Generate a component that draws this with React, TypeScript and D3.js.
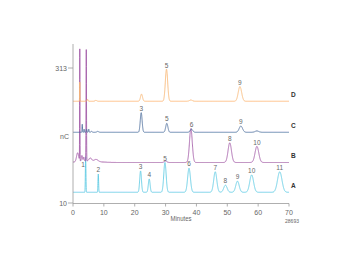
import React from "react";
import * as d3 from "d3";

// Retention time axis (minutes) and response axis (nC)
const xTicks = [0, 10, 20, 30, 40, 50, 60, 70];
const yTicks = [10, 313];
const traceNames = ["A", "B", "C", "D"];
// Baseline level of each stacked trace (nC)
const baselines = [34, 101, 168.7, 238.3];
const colors = ["#5fcbe3", "#a45ca8", "#52739f", "#f8b876"];

// Peak tables: [retention time (min), height above baseline (nC), sigma (min)]
const peaksA: [number, number, number][] = [
  [4.1, 80, 0.09], [8.2, 41, 0.1], [21.9, 48, 0.28], [24.7, 30, 0.28],
  [29.8, 67, 0.38], [37.6, 54, 0.45], [46.1, 46, 0.5], [49.4, 16, 0.55],
  [53.3, 25, 0.55], [57.9, 39, 0.62], [67.0, 46, 0.72],
];
const peaksB: [number, number, number][] = [
  [1.5, 20, 0.35], [2.2, 250, 0.05], [2.9, 13, 0.18], [3.5, 9, 0.14],
  [4.3, 250, 0.07], [5.6, 7, 0.4], [7.5, 4.5, 0.6], [5.0, 3.4, 3],
  [30.0, 3.4, 0.4], [38.2, 76, 0.45], [50.8, 44, 0.55], [59.6, 36, 0.6],
];
const peaksC: [number, number, number][] = [
  [3.0, 18, 0.07], [3.6, 7, 0.07], [4.4, 7, 0.1], [5.1, 7, 0.1],
  [6.0, 2, 0.2], [8.0, 2, 0.3], [22.1, 44, 0.3], [30.4, 20, 0.35],
  [38.4, 7, 0.4], [54.4, 14, 0.55], [59.6, 3, 0.6],
];
const peaksD: [number, number, number][] = [
  [2.2, 43, 0.05], [4.7, 4.5, 0.15], [7.4, 2, 0.3], [22.2, 16, 0.33],
  [30.3, 72, 0.38], [38.2, 2.7, 0.5], [54.1, 33, 0.55],
];
const peakTables = [peaksA, peaksB, peaksC, peaksD];

// Peak number annotations: [trace index, label, time (min), level (nC)]
const peakLabels: [number, string, number, number][] = [
  [0, "1", 3.3, 91], [0, "2", 8.2, 79], [0, "3", 21.9, 86], [0, "4", 24.7, 68],
  [0, "5", 29.8, 105], [0, "6", 37.6, 92], [0, "7", 46.1, 84], [0, "8", 49.4, 54],
  [0, "9", 53.3, 63], [0, "10", 57.9, 77], [0, "11", 67.0, 84],
  [1, "8", 50.8, 149], [1, "10", 59.6, 141],
  [2, "3", 22.1, 217], [2, "5", 30.4, 193], [2, "6", 38.4, 180], [2, "9", 54.4, 187],
  [3, "5", 30.3, 314], [3, "9", 54.1, 275],
];

const W = 360, H = 270;
const x = d3.scaleLinear().domain([0, 70]).range([73, 289]);
const y = d3.scaleLinear().domain([10, 313]).range([203, 68]);
const times = d3.range(0, 70.0001, 0.02);

function trace(i: number): [number, number][] {
  const peaks = peakTables[i];
  return times.map((t) => {
    let v = baselines[i];
    for (const [rt, h, s] of peaks) {
      const z = (t - rt) / s;
      if (Math.abs(z) < 8) v += h * Math.exp(-0.5 * z * z);
    }
    return [t, v];
  });
}

const line = d3
  .line<[number, number]>()
  .x((d) => x(d[0]))
  .y((d) => y(d[1]));

const font = "'Liberation Sans', Arial, sans-serif";

export default function App() {
  const axisColor = "#9a9a9a";
  const textColor = "#666";
  return (
    <svg
      width={W}
      height={H}
      style={{ position: "absolute", left: 0, top: 0, background: "#fff" }}
      fontFamily={font}
    >
      {/* traces */}
      {traceNames.map((n, i) => (
        <path
          key={n}
          d={line(trace(i)) || ""}
          fill="none"
          stroke={colors[i]}
          strokeWidth={0.9}
          strokeLinejoin="round"
        />
      ))}
      {/* peak labels */}
      {peakLabels.map(([ti, txt, t, v], k) => (
        <text
          key={k}
          x={x(t)}
          y={y(v)}
          fontSize={6.5}
          fill={textColor}
          textAnchor="middle"
        >
          {txt}
        </text>
      ))}
      {/* trace names */}
      {traceNames.map((n, i) => (
        <text
          key={"n" + n}
          x={x(70) + 2}
          y={y(baselines[i]) - 4.5}
          fontSize={6.5}
          fontWeight="bold"
          fill="#333"
        >
          {n}
        </text>
      ))}
      {/* axes */}
      <line x1={x(0)} x2={x(0)} y1={44} y2={y(10) + 0.5} stroke={axisColor} strokeWidth={0.8} />
      <line x1={x(0)} x2={x(70)} y1={y(10) + 0.5} y2={y(10) + 0.5} stroke={axisColor} strokeWidth={0.8} />
      {xTicks.map((t) => (
        <g key={"x" + t}>
          <line x1={x(t)} x2={x(t)} y1={y(10) + 0.5} y2={y(10) + 3.5} stroke={axisColor} strokeWidth={0.8} />
          <text x={x(t)} y={y(10) + 11.5} fontSize={7} fill={textColor} textAnchor="middle">
            {t}
          </text>
        </g>
      ))}
      {yTicks.map((v) => (
        <g key={"y" + v}>
          <line x1={x(0) - 5} x2={x(0)} y1={y(v)} y2={y(v)} stroke={axisColor} strokeWidth={0.8} />
          <text x={x(0) - 6} y={y(v) + 2.5} fontSize={7} fill={textColor} textAnchor="end">
            {v}
          </text>
        </g>
      ))}
      <text x={64.5} y={138.5} fontSize={7} fill={textColor} textAnchor="middle">
        nC
      </text>
      <text x={x(35)} y={220.5} fontSize={6.5} fill={textColor} textAnchor="middle" textLength={21} lengthAdjust="spacingAndGlyphs">
        Minutes
      </text>
      <text x={292} y={222.5} fontSize={5} fill={textColor} textAnchor="middle">
        28693
      </text>
    </svg>
  );
}
